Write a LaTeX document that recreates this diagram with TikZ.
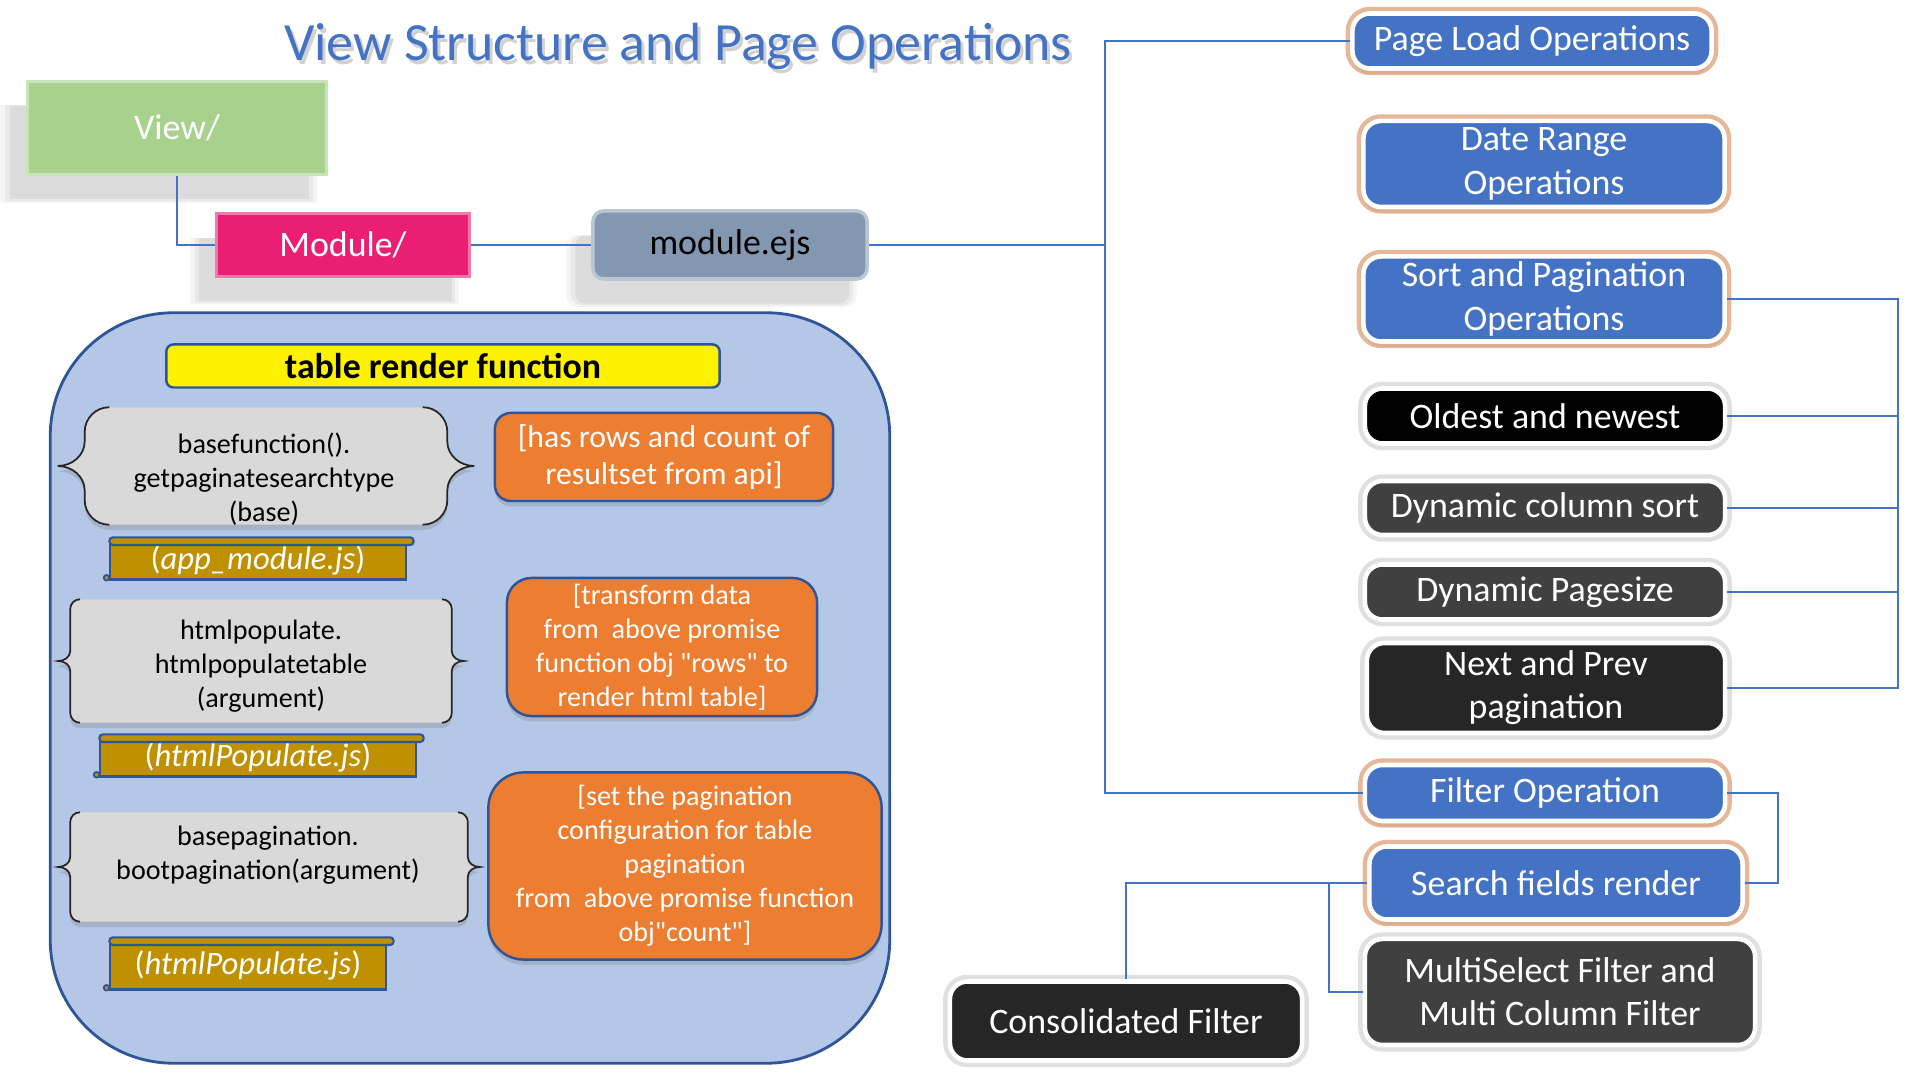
\documentclass[tikz,border=0pt]{standalone}
\usepackage{fontspec}
\setmainfont{Carlito}
\usetikzlibrary{calc, shadows}

\definecolor{viewgreen}{HTML}{A9D18E}
\definecolor{modpink}{HTML}{EA1E72}
\definecolor{ejsslate}{HTML}{8497B0}
\definecolor{panelblue}{HTML}{B4C7E7}
\definecolor{edgeblue}{HTML}{2F5597}
\definecolor{linkblue}{HTML}{4472C4}
\definecolor{braceg}{HTML}{D9D9D9}
\definecolor{noteorange}{HTML}{ED7D31}
\definecolor{filegold}{HTML}{BF9000}
\definecolor{glow}{HTML}{DDA077}

\newcommand{\ftitle}{\fontsize{15.3}{18}\selectfont}
\newcommand{\fbig}{\fontsize{10.2}{12.3}\selectfont}
\newcommand{\fsmall}{\fontsize{8}{9.7}\selectfont}
\newcommand{\dq}{\XeTeXglyph\XeTeXcharglyph"22\relax}

% gray brace-sided outline round an empty node: #1 node, #2 cusp, #3 corner
\newcommand{\bracebox}[3]{%
  \fill[braceg, drop shadow={shadow xshift=0pt, shadow yshift=-1.5pt, opacity=0.3}]
    let \p1=(#1.north west), \p2=(#1.south east), \p3=(#1.west) in
    (\x1+#3,\y1) -- (\x2-#3,\y1) to[out=0,in=90] (\x2,\y1-#3) -- (\x2,\y3+#3)
    to[out=-90,in=180] (\x2+#2,\y3) to[out=180,in=90] (\x2,\y3-#3) -- (\x2,\y2+#3)
    to[out=-90,in=0] (\x2-#3,\y2) -- (\x1+#3,\y2) to[out=180,in=-90] (\x1,\y2+#3)
    -- (\x1,\y3-#3) to[out=90,in=0] (\x1-#2,\y3) to[out=0,in=-90] (\x1,\y3+#3)
    -- (\x1,\y1-#3) to[out=90,in=180] (\x1+#3,\y1) -- cycle;
  \draw[black!85, line width=0.5pt] let \p1=(#1.north west), \p2=(#1.south east), \p3=(#1.west) in
    (\x2-#3,\y1) to[out=0,in=90] (\x2,\y1-#3) -- (\x2,\y3+#3)
    to[out=-90,in=180] (\x2+#2,\y3) to[out=180,in=90] (\x2,\y3-#3) -- (\x2,\y2+#3)
    to[out=-90,in=0] (\x2-#3,\y2)
    (\x1+#3,\y2) to[out=180,in=-90] (\x1,\y2+#3)
    -- (\x1,\y3-#3) to[out=90,in=0] (\x1-#2,\y3) to[out=0,in=-90] (\x1,\y3+#3)
    -- (\x1,\y1-#3) to[out=90,in=180] (\x1+#3,\y1);
}

% rolled top edge of a file scroll
\newcommand{\fileroll}[1]{%
  \draw[fill=filegold, draw=edgeblue, line width=0.6pt, rounded corners=1pt]
    ([yshift=0.6pt]#1.north west) rectangle ([xshift=2pt,yshift=-1.6pt]#1.north east);
  \draw[fill=filegold, draw=edgeblue, line width=0.5pt] ([xshift=-0.8pt,yshift=0.8pt]#1.south west) circle (0.8pt);
}

\begin{document}
\begin{tikzpicture}[x=0.01cm, y=-0.01cm,
  link/.style={draw=linkblue, line width=0.45pt},
  bigshadow/.style={
    drop shadow={shadow xshift=-5pt, shadow yshift=-7pt, shadow scale=1.06, opacity=0.08},
    drop shadow={shadow xshift=-5pt, shadow yshift=-7pt, shadow scale=1.03, opacity=0.10},
    drop shadow={shadow xshift=-5pt, shadow yshift=-7pt, shadow scale=1.0, opacity=0.12}},
  softshadow/.style={drop shadow={shadow xshift=0pt, shadow yshift=-1.5pt, opacity=0.3}},
  tree/.style={font=\fbig, inner sep=0pt, align=center, bigshadow},
  panelbox/.style={fill=panelblue, draw=edgeblue, line width=0.8pt, rounded corners=35pt},
  headbox/.style={fill=yellow, draw=edgeblue, line width=0.7pt, rounded corners=2pt,
    font=\fbig\bfseries, inner sep=0pt},
  fnshape/.style={inner sep=0pt},
  fnbox/.style={font=\fsmall, align=center, inner sep=0pt},
  notebox/.style={fill=noteorange, draw=edgeblue, line width=0.7pt, text=white,
    font=\fsmall, align=center, inner sep=0pt, softshadow},
  filebox/.style={fill=filegold, draw=edgeblue, line width=0.6pt, text=white,
    font=\fontsize{9.3}{11}\selectfont, inner sep=0pt},
  rbox/.style={rounded corners=5pt, draw=white, line width=1.3pt, text=white,
    font=\fbig, align=center, inner sep=0pt, softshadow},
  opbox/.style={rbox, fill=linkblue, preaction={draw=glow, line width=3.8pt, opacity=0.75}},
  darkbox/.style={rbox, fill=#1, preaction={draw=black!12, line width=3.8pt}}]

\useasboundingbox (0,0) rectangle (1920,1080);

% title
\node[font=\ftitle, text=black!30, anchor=base, opacity=0.6] at (681,65) {View Structure and Page Operations};
\node (title) [font=\ftitle, text=linkblue, anchor=base] at (678,61) {View Structure and Page Operations};

% folder tree
\node (view) [tree, fill=viewgreen, draw=viewgreen!60, line width=1pt, text=white,
  minimum width=29.9mm, minimum height=9.3mm] at (177,128) {View/};
\node (module) [tree, fill=modpink, draw=modpink!60, line width=1pt, text=white,
  minimum width=25.3mm, minimum height=6.3mm] at (343,245) {Module/};
\node (ejs) [tree, fill=ejsslate, draw=ejsslate!55, line width=1pt, rounded corners=3pt,
  minimum width=27.4mm, minimum height=6.8mm] at (730,245) {module.ejs};

\draw[link] (view.south) |- (module.west);
\draw[link] (module.east) -- (ejs.west);

% table render panel
\node (panel) [panelbox, minimum width=83.9mm, minimum height=75mm] at (470,688) {};
\node (render) [headbox, minimum width=55.3mm, minimum height=4.3mm] at (443,366) {table render function};

\node (basefnbox) [fnshape, minimum width=36.1mm, minimum height=11.6mm] at (266,466) {};
\bracebox{basefnbox}{7.7pt}{7pt}
\node (basefn) [fnbox] at (264,479) {basefunction().\\getpaginatesearchtype\\(base)};
\node (popfnbox) [fnshape, minimum width=38mm, minimum height=12.2mm] at (261,661) {};
\bracebox{popfnbox}{3.4pt}{2.8pt}
\node (popfn) [fnbox] at (261,666) {htmlpopulate.\\htmlpopulatetable\\(argument)};
\node (pagefnbox) [fnshape, minimum width=39.6mm, minimum height=10.8mm] at (269,867) {};
\bracebox{pagefnbox}{3.4pt}{2.8pt}
\node (pagefn) [fnbox] at (268,855) {basepagination.\\bootpagination(argument)};

\node (rows) [notebox, rounded corners=4.5pt, font=\fontsize{9}{10.6}\selectfont,
  minimum width=33.8mm, minimum height=8.8mm] at (664,457)
  {[has rows and count of\\resultset from api]};
\node (transform) [notebox, rounded corners=7pt, minimum width=31mm, minimum height=13.8mm] at (662,647)
  {[transform data\\from\ \ above promise\\function obj \dq rows\dq{} to\\render html table]};
\node (setpage) [notebox, rounded corners=10pt, minimum width=39.3mm, minimum height=18.7mm] at (685,866)
  {[set the pagination\\configuration for table\\pagination\\from\ \ above promise function\\obj\dq count\dq]};

\node (appfile) [filebox, minimum width=29.5mm, minimum height=3.9mm] at (258,560) {(\textit{app\_module.js})};
\fileroll{appfile}
\node (popfile) [filebox, minimum width=31.5mm, minimum height=3.9mm] at (258,757) {(\textit{htmlPopulate.js})};
\fileroll{popfile}
\node (pagefile) [filebox, minimum width=27.5mm, minimum height=4.9mm] at (248,965) {(\textit{htmlPopulate.js})};
\fileroll{pagefile}

% page operations
\node (pageload) [opbox, minimum width=35.9mm, minimum height=5.5mm] at (1532,41) {Page Load Operations};
\node (daterange) [opbox, minimum width=36.1mm, minimum height=8.6mm] at (1544,164) {Date Range\\Operations};
\node (sortpage) [opbox, minimum width=36.1mm, minimum height=8.5mm] at (1544,299) {Sort and Pagination\\Operations};
\node (oldest) [darkbox=black, minimum width=36mm, minimum height=5.5mm] at (1545,416) {Oldest and newest};
\node (colsort) [darkbox=black!75, minimum width=36mm, minimum height=5.4mm] at (1545,508) {Dynamic column sort};
\node (pagesize) [darkbox=black!75, minimum width=36mm, minimum height=5.5mm] at (1545,592) {Dynamic Pagesize};
\node (nextprev) [darkbox=black!85, minimum width=35.8mm, minimum height=9mm] at (1546,688) {Next and Prev\\pagination};
\node (filterop) [opbox, minimum width=36mm, minimum height=5.6mm] at (1545,793) {Filter Operation};
\node (search) [opbox, minimum width=37.3mm, minimum height=7.3mm] at (1556,883) {Search fields render};
\node (multisel) [darkbox=black!75, minimum width=39mm, minimum height=10.6mm] at (1560,992) {MultiSelect Filter and\\Multi Column Filter};
\node (consol) [darkbox=black!85, minimum width=35.2mm, minimum height=7.9mm] at (1126,1021) {Consolidated Filter};

\coordinate (trunk) at (1105,245);
\coordinate (sortbus) at (1898,0);
\coordinate (filterbus) at (1778,0);
\coordinate (multibus) at (1329,0);

\draw[link] (ejs.east) -- (trunk);
\draw[link] (pageload.west) -| (trunk) |- (filterop.west);
\draw[link] (sortpage.east) -- (sortpage.east -| sortbus) |- (nextprev.east);
\draw[link] (oldest.east) -- (oldest.east -| sortbus);
\draw[link] (colsort.east) -- (colsort.east -| sortbus);
\draw[link] (pagesize.east) -- (pagesize.east -| sortbus);
\draw[link] (filterop.east) -- (filterop.east -| filterbus) |- (search.east);
\draw[link] (search.west) -| (consol.north);
\draw[link] (search.west -| multibus) |- (multisel.west);

\end{tikzpicture}
\end{document}
